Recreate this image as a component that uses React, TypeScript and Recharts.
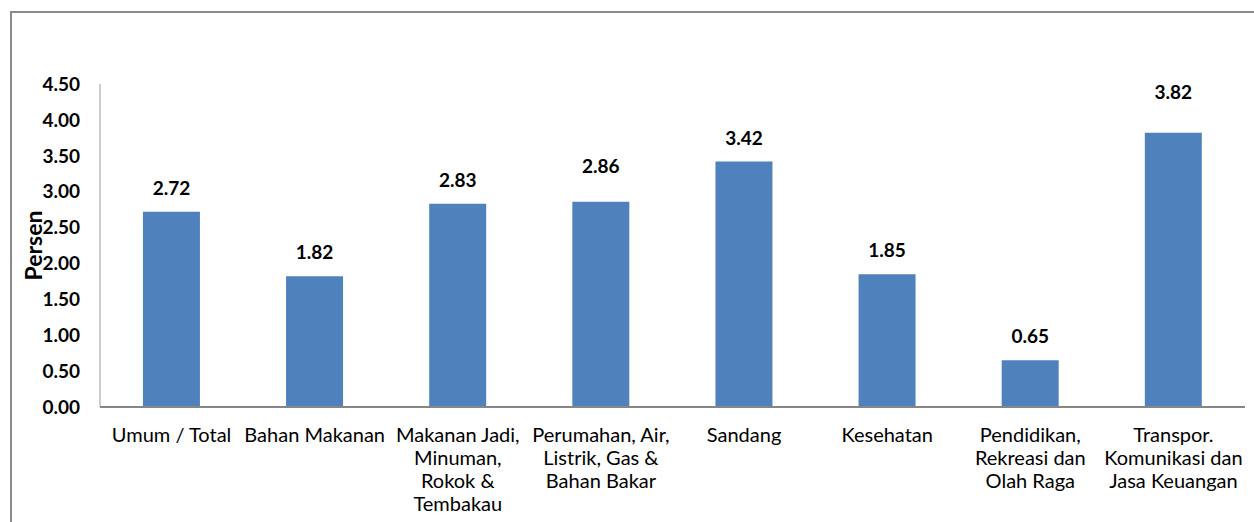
import { BarChart, Bar, XAxis, YAxis, LabelList, Label } from 'recharts';

// Kategori pengeluaran, pemisah baris sesuai label di grafik asli
const categories = [
  'Umum / Total',
  'Bahan Makanan',
  'Makanan Jadi,\nMinuman,\nRokok &\nTembakau',
  'Perumahan, Air,\nListrik, Gas &\nBahan Bakar',
  'Sandang',
  'Kesehatan',
  'Pendidikan,\nRekreasi dan\nOlah Raga',
  'Transpor.\nKomunikasi dan\nJasa Keuangan',
];

const values = [2.72, 1.82, 2.83, 2.86, 3.42, 1.85, 0.65, 3.82];

const yTicks = [0, 0.5, 1, 1.5, 2, 2.5, 3, 3.5, 4, 4.5];

const FONT = 'Lato, "Open Sans", sans-serif';
const BAR_COLOR = '#4F81BD';
const AXIS_COLOR = '#868686';

// dua label di grafik asli digeser manual sedikit ke atas
const labelLift = [0, 0, 0, 12, 0, 0, 0, 17];

const data = categories.map((c, i) => ({ name: c, value: values[i] }));

function CategoryTick({ x, y, payload }: any) {
  const lines = String(payload.value).split('\n');
  return (
    <text x={x} y={y} textAnchor="middle" fill="#000" fontSize={20} fontFamily={FONT}>
      {lines.map((line, i) => (
        <tspan key={i} x={x} dy={i === 0 ? '0.71em' : 23}>
          {line}
        </tspan>
      ))}
    </text>
  );
}

function ValueLabel({ x, y, width, value, index }: any) {
  const cx = Number(x) + Number(width) / 2;
  const lift = labelLift[index] || 0;
  return (
    <text
      x={cx}
      y={Number(y) - 17 - lift}
      textAnchor="middle"
      fill="#000"
      fontSize={19}
      fontWeight={700}
      fontFamily={FONT}
    >
      {Number(value).toFixed(2)}
    </text>
  );
}

export default function App() {
  return (
    <div style={{ position: 'fixed', left: 0, top: 0, width: 1254, height: 522, overflow: 'hidden', background: '#fff' }}>
      {/* bingkai area grafik, terpotong di kanan dan bawah */}
      <div
        style={{
          position: 'absolute',
          left: 10,
          top: 11,
          width: 1300,
          height: 600,
          borderLeft: '2px solid #8a8a8a',
          borderTop: '2px solid #8a8a8a',
        }}
      />
      <BarChart
        width={1254}
        height={522}
        data={data}
        margin={{ top: 84, right: 9, bottom: 0, left: 0 }}
        barCategoryGap="30%"
        style={{ position: 'absolute', left: 0, top: 0, fontFamily: FONT }}
      >
        <XAxis
          dataKey="name"
          interval={0}
          height={115}
          tickLine={false}
          tickSize={0}
          tickMargin={21}
          axisLine={{ stroke: AXIS_COLOR, strokeWidth: 2 }}
          tick={<CategoryTick />}
        />
        <YAxis
          width={100}
          domain={[0, 4.5]}
          ticks={yTicks}
          interval={0}
          tickLine={false}
          tickSize={0}
          tickMargin={20}
          axisLine={{ stroke: '#9a9a9a', strokeWidth: 1 }}
          tickFormatter={(v: number) => v.toFixed(2)}
          tick={{ fill: '#000', fontSize: 19, fontWeight: 700, fontFamily: FONT }}
        >
          <Label
            value="Persen"
            angle={-90}
            position="insideLeft"
            offset={0}
            dx={34}
            style={{ fill: '#000', fontSize: 23, fontWeight: 700, fontFamily: FONT, textAnchor: 'middle' }}
          />
        </YAxis>
        <Bar dataKey="value" fill={BAR_COLOR} isAnimationActive={false}>
          <LabelList dataKey="value" content={<ValueLabel />} />
        </Bar>
      </BarChart>
    </div>
  );
}
